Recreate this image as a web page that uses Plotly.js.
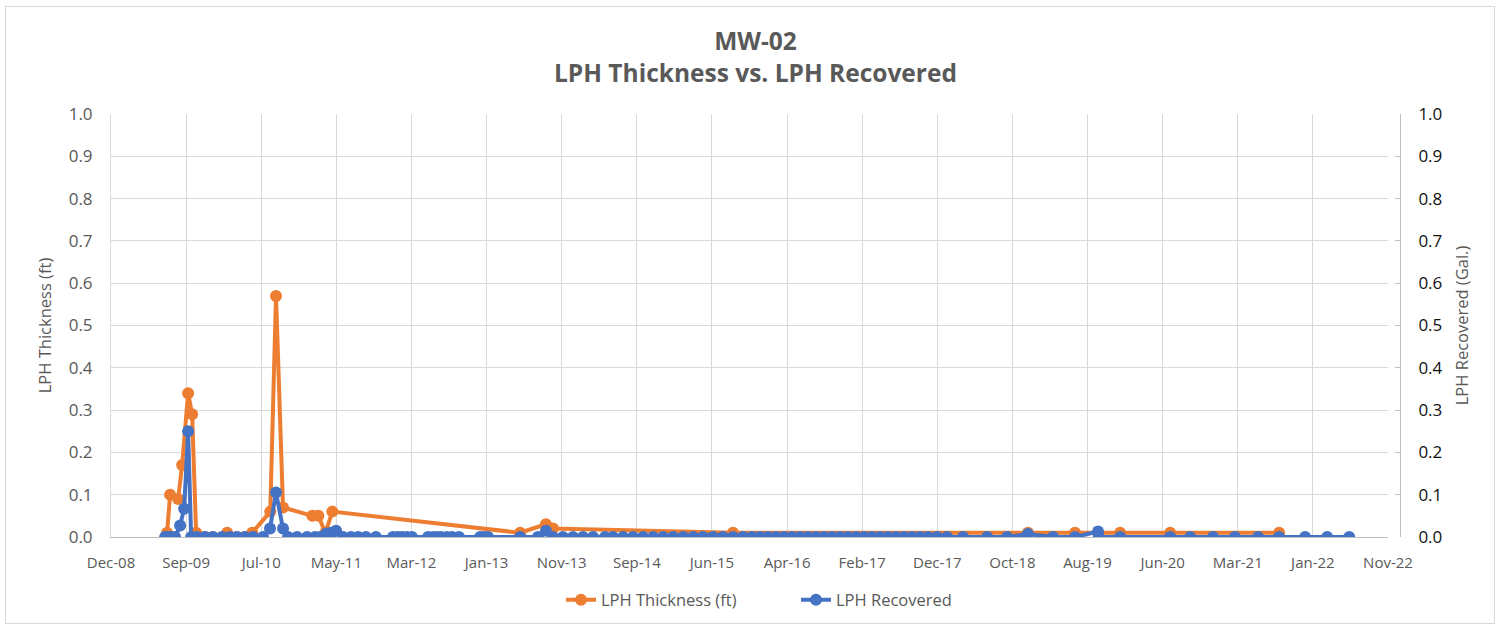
<!DOCTYPE html>
<html>
<head>
<meta charset="utf-8">
<script src="https://cdn.plot.ly/plotly-3.0.1.min.js"></script>
<style>
  html, body { margin: 0; padding: 0; background: #ffffff; }
  #frame { position: absolute; left: 5px; top: 6px; width: 1490px; height: 618px; border: 1px solid #d9d9d9; box-sizing: border-box; }
  #chart { position: absolute; left: 0; top: 0; width: 1499px; height: 629px; }
</style>
</head>
<body>
<div id="frame"></div>
<div id="chart"></div>
<script>
// ---- Data ----
const thicknessDates = [
  "2009-07-13","2009-07-25","2009-08-26","2009-09-11","2009-10-05","2009-10-21","2009-11-06",
  "2009-12-11","2010-01-12","2010-03-10","2010-04-18","2010-05-20","2010-06-18","2010-08-29",
  "2010-09-21","2010-10-19","2011-02-13","2011-03-09","2011-04-06","2011-05-04","2013-05-23",
  "2013-09-03","2013-10-01","2015-09-20","2018-12-11","2019-06-17","2019-09-17","2019-12-14",
  "2020-07-01","2021-09-09"
];
const thicknessFt = [
  0.01,0.10,0.09,0.17,0.34,0.29,0.01,
  0.0,0.0,0.01,0.0,0.0,0.01,0.06,
  0.57,0.07,0.05,0.05,0.01,0.06,0.01,
  0.03,0.02,0.01,0.01,0.01,0.01,0.01,
  0.01,0.01
];

const recoveredDates = [
  "2009-07-05","2009-07-17","2009-07-29","2009-08-14","2009-09-03","2009-09-19","2009-10-05",
  "2009-10-17","2009-11-09","2009-12-11","2010-01-12","2010-02-17","2010-03-21","2010-04-18",
  "2010-05-20","2010-06-21","2010-07-31","2010-08-28","2010-09-21","2010-10-19","2010-11-08",
  "2010-12-14","2011-01-23","2011-02-24","2011-03-16","2011-04-09","2011-04-29","2011-05-19",
  "2011-06-16","2011-07-18","2011-08-15","2011-09-15","2011-10-25","2012-01-01","2012-01-21",
  "2012-02-06","2012-02-26","2012-03-17","2012-05-20","2012-06-09","2012-06-25","2012-07-11",
  "2012-08-04","2012-08-24","2012-09-21","2012-12-14","2012-12-30","2013-01-15","2013-05-23",
  "2013-08-02","2013-09-03","2013-10-01","2013-11-10","2013-12-20","2014-01-29","2014-03-10",
  "2014-04-27","2014-05-29","2014-07-08","2014-08-17","2014-09-26","2014-11-05","2014-12-15",
  "2015-01-24","2015-03-05","2015-04-14","2015-05-23","2015-07-02","2015-08-11","2015-09-20",
  "2015-10-30","2015-12-05","2016-01-06","2016-02-07","2016-03-10","2016-04-11","2016-05-13",
  "2016-06-14","2016-07-16","2016-08-17","2016-09-18","2016-10-20","2016-11-21","2016-12-23",
  "2017-01-24","2017-02-25","2017-03-28","2017-04-29","2017-05-31","2017-07-02","2017-08-03",
  "2017-09-04","2017-10-06","2017-11-07","2017-12-13","2018-01-22","2018-03-27","2018-07-01",
  "2018-09-19","2018-12-11","2019-03-21","2019-06-17","2019-09-17","2019-09-20","2019-12-14",
  "2020-07-01","2020-09-19","2020-12-19","2021-03-17","2021-06-17","2021-09-09","2021-12-22",
  "2022-03-20","2022-06-16"
];
const recoveredGal = [
  0,0,0,0,0.027,0.067,0.25,
  0,0,0,0,0,0,0,
  0,0,0,0.02,0.105,0.02,0,
  0,0,0,0,0.008,0.01,0.015,
  0,0,0,0,0,0,0,
  0,0,0,0,0,0,0,
  0,0,0,0,0,0,0,
  0,0.015,0,0,0,0,0,
  0,0,0,0,0,0,0,
  0,0,0,0,0,0,0,
  0,0,0,0,0,0,0,
  0,0,0,0,0,0,0,
  0,0,0,0,0,0,0,
  0,0,0,0,0,0,0,
  0,0.007,0,0,0.013,0,0,
  0,0,0,0,0,0,0,
  0,0
];

const xTickVals = [
  "2008-12-01","2009-09-27","2010-07-24","2011-05-20","2012-03-15","2013-01-09",
  "2013-11-05","2014-09-01","2015-06-28","2016-04-23","2017-02-17","2017-12-14",
  "2018-10-10","2019-08-06","2020-06-01","2021-03-28","2022-01-22","2022-11-18"
];
const xTickText = [
  "Dec-08","Sep-09","Jul-10","May-11","Mar-12","Jan-13","Nov-13","Sep-14","Jun-15",
  "Apr-16","Feb-17","Dec-17","Oct-18","Aug-19","Jun-20","Mar-21","Jan-22","Nov-22"
];
const yTickVals = [0,0.1,0.2,0.3,0.4,0.5,0.6,0.7,0.8,0.9,1.0];
const yTickText = ["0.0","0.1","0.2","0.3","0.4","0.5","0.6","0.7","0.8","0.9","1.0"];

const ORANGE = "#ED7D31";
const BLUE = "#4472C4";
const FONT = "Open Sans, Liberation Sans, sans-serif";

const traces = [
  {
    type: "scatter", mode: "lines+markers", name: "LPH Thickness (ft)",
    x: thicknessDates, y: thicknessFt, xaxis: "x", yaxis: "y",
    line: { color: ORANGE, width: 4 },
    marker: { color: ORANGE, size: 12, symbol: "circle" }
  },
  {
    type: "scatter", mode: "lines+markers", name: "LPH Recovered",
    x: recoveredDates, y: recoveredGal, xaxis: "x", yaxis: "y2",
    line: { color: BLUE, width: 4 },
    marker: { color: BLUE, size: 12, symbol: "circle" }
  }
];

const layout = {
  width: 1499, height: 629,
  paper_bgcolor: "rgba(0,0,0,0)", plot_bgcolor: "rgba(0,0,0,0)",
  margin: { l: 111, r: 99, t: 114, b: 92 },
  font: { family: FONT, color: "#595959" },
  title: {
    text: "<b>MW-02</b><br><b>LPH Thickness vs. LPH Recovered</b>",
    font: { family: FONT, size: 24.5, color: "#595959" },
    x: 0.5, xref: "paper", xanchor: "center",
    y: 0.92, yref: "container", yanchor: "top"
  },
  xaxis: {
    type: "date",
    domain: [0, 0.9907],
    range: ["2008-12-01", "2022-11-18"],
    tickmode: "array", tickvals: xTickVals, ticktext: xTickText,
    tickfont: { family: FONT, size: 15, color: "#595959" },
    showgrid: true, gridcolor: "#d9d9d9", gridwidth: 1,
    showline: true, linecolor: "#bfbfbf", linewidth: 1,
    ticks: "", zeroline: false, ticklabelstandoff: 12
  },
  yaxis: {
    range: [0, 1],
    tickmode: "array", tickvals: yTickVals, ticktext: yTickText,
    tickfont: { family: FONT, size: 17, color: "#595959" },
    showgrid: true, gridcolor: "#d9d9d9", gridwidth: 1,
    showline: true, linecolor: "#d9d9d9",
    zeroline: false, ticks: "", ticklabelstandoff: 14,
    title: { text: "LPH Thickness (ft)", font: { family: FONT, size: 16.5, color: "#595959" }, standoff: 12 }
  },
  yaxis2: {
    range: [0, 1], overlaying: "y", side: "right", anchor: "free", position: 1,
    tickmode: "array", tickvals: yTickVals, ticktext: yTickText,
    tickfont: { family: FONT, size: 17, color: "#111111" },
    showgrid: false, zeroline: false,
    showline: true, linecolor: "#bfbfbf", linewidth: 1,
    ticks: "inside", ticklen: 5, tickcolor: "#bfbfbf", ticklabelstandoff: 14,
    title: { text: "LPH Recovered (Gal.)", font: { family: FONT, size: 16.5, color: "#595959" }, standoff: 14 }
  },
  legend: {
    orientation: "h", x: 561 / 1499, xref: "container", xanchor: "left",
    y: 0.046, yref: "container", yanchor: "middle",
    font: { family: FONT, size: 16.5, color: "#595959" },
    entrywidth: 190, entrywidthmode: "pixels",
    traceorder: "normal"
  },
  showlegend: true
};

Plotly.newPlot("chart", traces, layout, { displayModeBar: false, staticPlot: true });
</script>
</body>
</html>
